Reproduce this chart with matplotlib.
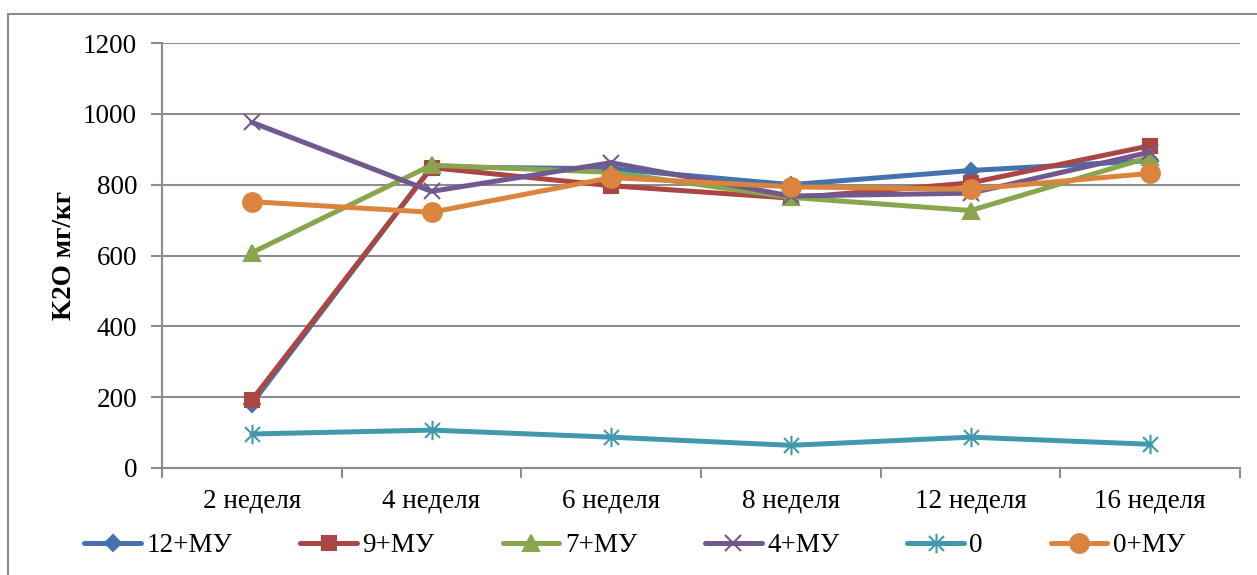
import matplotlib
matplotlib.use('Agg')
import matplotlib.pyplot as plt
from matplotlib.path import Path
from matplotlib.patches import Rectangle

plt.rcParams['font.family'] = ['Liberation Serif', 'DejaVu Serif']

weeks = ['2 неделя', '4 неделя', '6 неделя', '8 неделя', '12 неделя', '16 неделя']

# K2O, мг/кг
s12_mu = [182, 850, 845, 800, 840, 868]
s9_mu = [192, 848, 797, 762, 805, 910]
s7_mu = [608, 855, 835, 764, 727, 878]
s4_mu = [976, 781, 862, 768, 776, 892]
s0 = [96, 107, 87, 64, 87, 67]
s0_mu = [752, 722, 820, 794, 787, 832]

# звёздочка как в Excel: крест + вертикальная черта
star = Path([(-1, -1), (1, 1), (-1, 1), (1, -1), (0, -1.3), (0, 1.3)],
            [Path.MOVETO, Path.LINETO, Path.MOVETO, Path.LINETO, Path.MOVETO, Path.LINETO])

series = [
    ('12+МУ', s12_mu, '#4472AE', 'D', 8),
    ('9+МУ', s9_mu, '#AA4643', 's', 10),
    ('7+МУ', s7_mu, '#89A54E', '^', 11),
    ('4+МУ', s4_mu, '#71588F', 'x', 11),
    ('0', s0, '#4198AF', star, 14),
    ('0+МУ', s0_mu, '#DB843D', 'o', 13.5),
]

fs = 19.5
fig = plt.figure(figsize=(12.57, 5.75), dpi=100)
ax = fig.add_axes([0.1289, 0.1861, 0.9865 - 0.1289, 0.9252 - 0.1861])

x = list(range(len(weeks)))
for name, vals, color, marker, ms in series:
    ax.plot(x, vals, color=color, lw=3.6, marker=marker, markersize=ms,
            markeredgewidth=1.5, markeredgecolor=color, markerfacecolor=color,
            label=name, solid_capstyle='round', solid_joinstyle='round')

grid_c = '#8C8C8C'
ax.set_ylim(0, 1200)
ax.set_yticks(range(0, 1201, 200))
ax.set_xlim(-0.5, len(weeks) - 0.5)
ax.set_xticks(x)
ax.set_xticklabels(weeks)
ax.set_xticks([i - 0.5 for i in range(len(weeks) + 1)], minor=True)
ax.tick_params(axis='x', which='major', length=0, pad=15, labelsize=fs)
ax.tick_params(axis='x', which='minor', length=7, width=1.5, color=grid_c)
ax.tick_params(axis='y', length=8, width=1.5, color=grid_c, pad=10, labelsize=fs)
ax.yaxis.grid(True, color=grid_c, lw=1.5)
ax.set_axisbelow(True)
for side in ['top', 'right']:
    ax.spines[side].set_visible(False)
for side in ['left', 'bottom']:
    ax.spines[side].set_color(grid_c)
    ax.spines[side].set_linewidth(1.5)

ax.set_ylabel('K2O мг/кг', fontsize=fs, fontweight='bold', labelpad=4)

ax.legend(loc='center', bbox_to_anchor=(0.505, 0.051), bbox_transform=fig.transFigure,
          ncol=6, frameon=False, fontsize=fs, handlelength=2.1, handletextpad=0.2,
          columnspacing=2.5)

# рамка области диаграммы
fig.patches.append(Rectangle((0.0064, -0.1), 1.2, 0.9757 + 0.1, transform=fig.transFigure,
                             fill=False, edgecolor=grid_c, lw=1.5))

fig.savefig('out.png', dpi=100)
